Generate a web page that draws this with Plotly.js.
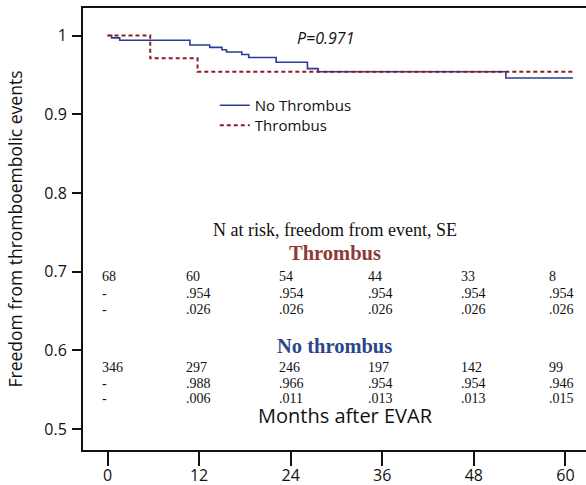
<!DOCTYPE html>
<html>
<head>
<meta charset="utf-8">
<script src="https://cdn.plot.ly/plotly-3.0.1.min.js"></script>
<style>html,body{margin:0;padding:0;background:#fff;}#chart{width:586px;height:485px;}</style>
</head>
<body>
<div id="chart"></div>
<script>
// Kaplan-Meier step data (months, freedom from event)
const noThrombusMonths = [0, 0.55, 1.6, 10.8, 13.4, 15.0, 15.6, 17.6, 18.5, 22.1, 26.2, 27.6, 52.2, 61];
const noThrombusSurv   = [1.0, 0.997, 0.994, 0.988, 0.985, 0.982, 0.979, 0.976, 0.972, 0.966, 0.958, 0.954, 0.946, 0.946];
const thrombusMonths = [0, 5.6, 11.8, 61];
const thrombusSurv   = [1.0, 0.971, 0.954, 0.954];

// risk table
const tableMonths = [0, 12, 24, 36, 48, 60];
const thrombusAtRisk = ['68', '60', '54', '44', '33', '8'];
const thrombusFree   = ['-', '.954', '.954', '.954', '.954', '.954'];
const thrombusSE     = ['-', '.026', '.026', '.026', '.026', '.026'];
const noThrombusAtRisk = ['346', '297', '246', '197', '142', '99'];
const noThrombusFree   = ['-', '.988', '.966', '.954', '.954', '.946'];
const noThrombusSE     = ['-', '.006', '.011', '.013', '.013', '.015'];

const xTicks = [0, 12, 24, 36, 48, 60];
const yTicks = [0.5, 0.6, 0.7, 0.8, 0.9, 1.0];
const yTickText = ['0.5', '0.6', '0.7', '0.8', '0.9', '1'];

const pValueText = 'P=0.971';

// ---- layout helpers (pixel -> data y) ----
const T = 8, B = 450;           // plot top / bottom in px
const yMin = 0.4733, yMax = 1.035;
function pyToY(py) { return yMax - (py - T) / (B - T) * (yMax - yMin); }
function pyToPaper(py) { return 1 - (py - T) / (B - T); }

const SANS = 'Open Sans, Noto Sans, sans-serif';
const SERIF = 'Liberation Serif, Times New Roman, serif';

const traces = [
  {
    x: noThrombusMonths, y: noThrombusSurv, type: 'scatter', mode: 'lines',
    line: {shape: 'hv', color: '#2f3a96', width: 1.6},
    name: 'No Thrombus', legend: 'legend'
  },
  {
    x: thrombusMonths, y: thrombusSurv, type: 'scatter', mode: 'lines',
    line: {shape: 'hv', color: '#8b1e24', width: 2, dash: '4px,3px'},
    name: 'Thrombus', legend: 'legend2'
  }
];

const annotations = [];
function addRow(texts, py, color) {
  const shifts = [-8, -15, -14, -16, -15, -18];
  texts.forEach((t, i) => {
    annotations.push({
      x: tableMonths[i], y: pyToY(py), xref: 'x', yref: 'y',
      text: t, showarrow: false, xanchor: 'left', yanchor: 'middle',
      xshift: shifts[i],
      font: {family: SERIF, size: 14, color: color || '#111'}
    });
  });
}
annotations.push({
  xref: 'paper', yref: 'y', x: 0.5, y: pyToY(230), text: 'N at risk, freedom from event, SE',
  showarrow: false, xanchor: 'center', yanchor: 'middle',
  font: {family: SERIF, size: 18, color: '#111'}
});
annotations.push({
  xref: 'paper', yref: 'y', x: 0.5, y: pyToY(253), text: '<b>Thrombus</b>',
  showarrow: false, xanchor: 'center', yanchor: 'middle',
  font: {family: SERIF, size: 20.5, color: '#8e3a3a'}
});
addRow(thrombusAtRisk, 276);
addRow(thrombusFree, 293);
addRow(thrombusSE, 309);
annotations.push({
  xref: 'paper', yref: 'y', x: 0.5, y: pyToY(346), text: '<b>No thrombus</b>',
  showarrow: false, xanchor: 'center', yanchor: 'middle',
  font: {family: SERIF, size: 20.5, color: '#2c4788'}
});
addRow(noThrombusAtRisk, 367);
addRow(noThrombusFree, 383);
addRow(noThrombusSE, 398);
annotations.push({
  xref: 'paper', yref: 'y', x: 0.521, y: pyToY(415), text: 'Months after EVAR',
  showarrow: false, xanchor: 'center', yanchor: 'middle',
  font: {family: SANS, size: 20, color: '#111'}
});
annotations.push({
  xref: 'x', yref: 'y', x: 28.5, y: pyToY(38), text: '<i>' + pValueText + '</i>',
  showarrow: false, xanchor: 'center', yanchor: 'middle',
  font: {family: SANS, size: 16, color: '#111'}
});

const legendCommon = {
  xanchor: 'left', yanchor: 'top',
  bgcolor: 'rgba(0,0,0,0)', borderwidth: 0,
  font: {family: SANS, size: 15, color: '#111'}
};

const layout = {
  width: 586, height: 485,
  margin: {l: 83, r: 0, t: T, b: 485 - B, pad: 0},
  paper_bgcolor: '#fff', plot_bgcolor: '#fff',
  showlegend: true,
  legend: Object.assign({x: 0.262, y: pyToPaper(89)}, legendCommon),
  legend2: Object.assign({x: 0.262, y: pyToPaper(109)}, legendCommon),
  xaxis: {
    range: [-3.21, 62.7], tickvals: xTicks, ticktext: xTicks.map(String),
    showgrid: false, zeroline: false,
    showline: true, linecolor: '#111', linewidth: 2, mirror: true,
    ticks: 'outside', ticklen: 14, tickwidth: 2, tickcolor: '#111',
    ticklabelstandoff: -4,
    tickfont: {family: SANS, size: 16, color: '#111'}
  },
  yaxis: {
    range: [yMin, yMax], tickvals: yTicks, ticktext: yTickText,
    showgrid: false, zeroline: false,
    showline: true, linecolor: '#111', linewidth: 2,
    ticks: 'outside', ticklen: 9, tickwidth: 2, tickcolor: '#111',
    ticklabelstandoff: 2,
    tickfont: {family: SANS, size: 16, color: '#111'},
    title: {text: 'Freedom from thromboembolic events', font: {family: SANS, size: 17.5, color: '#111'}, standoff: 17},
    automargin: false
  },
  annotations: annotations
};

Plotly.newPlot('chart', traces, layout, {displayModeBar: false, staticPlot: true});
</script>
</body>
</html>
